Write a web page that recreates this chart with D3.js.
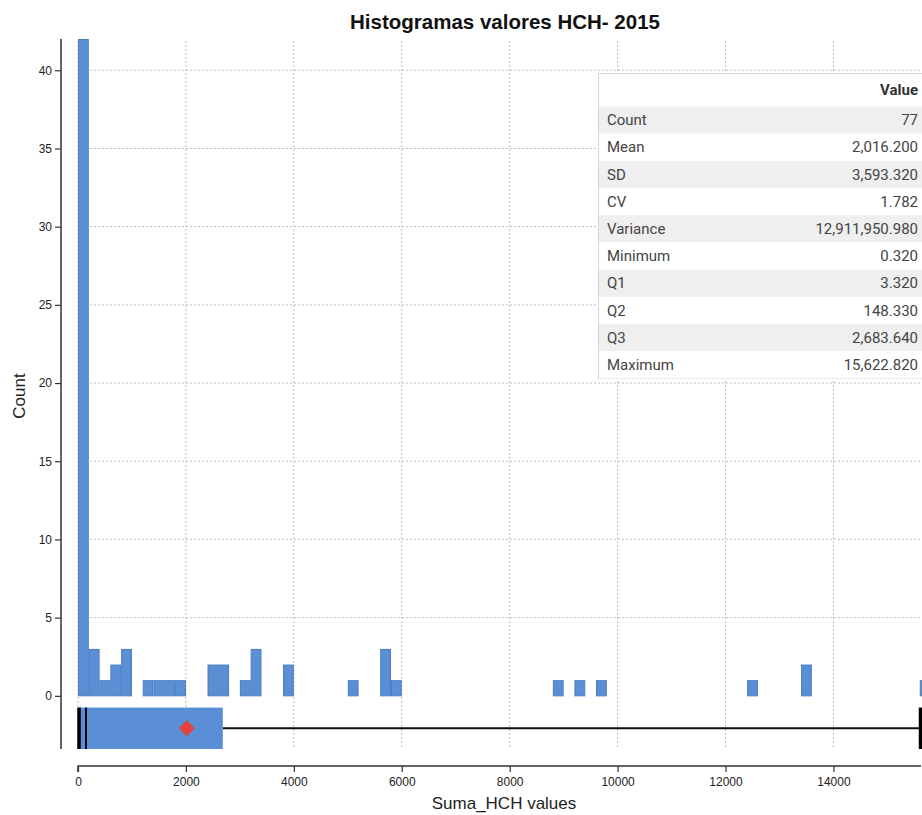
<!DOCTYPE html>
<html>
<head>
<meta charset="utf-8">
<script src="https://cdn.jsdelivr.net/npm/d3@7"></script>
<style>
  html, body { margin: 0; padding: 0; background: #fff; }
  svg { display: block; }
</style>
</head>
<body>
<svg id="chart" width="922" height="815"></svg>
<script>
// Histogram bins of Suma_HCH (bin width 200), only non-empty bins listed
const binWidth = 200;
const binStarts = [0, 200, 400, 600, 800, 1200, 1400, 1600, 1800, 2400, 2600, 3000, 3200, 3800,
                   5000, 5600, 5800, 8800, 9200, 9600, 12400, 13400, 15600];
const binCounts = [42, 3, 1, 2, 3, 1, 1, 1, 1, 2, 2, 1, 3, 2,
                   1, 3, 1, 1, 1, 1, 1, 2, 1];

// Summary statistics
const statLabels = ["Count", "Mean", "SD", "CV", "Variance", "Minimum", "Q1", "Q2", "Q3", "Maximum"];
const statValues = [77, 2016.2, 3593.32, 1.782, 12911950.98, 0.32, 3.32, 148.33, 2683.64, 15622.82];

const xTicks = [0, 2000, 4000, 6000, 8000, 10000, 12000, 14000];
const yTicks = [0, 5, 10, 15, 20, 25, 30, 35, 40];

const stat = name => statValues[statLabels.indexOf(name)];

const svg = d3.select("#chart");
const blue = "#5b8fd5";
const blueEdge = "#4a7dc2";
const gridColor = "#bdbdbd";

const x = d3.scaleLinear().domain([0, stat("Maximum")]).range([78, 921]);
const y = d3.scaleLinear().domain([-3.4, 42]).range([749, 39]);

// clip for plot area
svg.append("defs").append("clipPath").attr("id", "plotClip")
  .append("rect").attr("x", x(0)).attr("y", 0).attr("width", 922 - x(0)).attr("height", 815);

// grid
const grid = svg.append("g");
grid.selectAll("line.vg").data(xTicks).join("line")
  .attr("x1", d => x(d)).attr("x2", d => x(d))
  .attr("y1", y(42) + 2).attr("y2", y(-3.4))
  .attr("stroke", gridColor).attr("stroke-width", 1).attr("stroke-dasharray", "2,2");
grid.selectAll("line.hg").data(yTicks.filter(d => d > 0)).join("line")
  .attr("x1", x(0)).attr("x2", 922)
  .attr("y1", d => y(d)).attr("y2", d => y(d))
  .attr("stroke", gridColor).attr("stroke-width", 1).attr("stroke-dasharray", "2,2");

// histogram bars
svg.append("g").attr("clip-path", "url(#plotClip)")
  .selectAll("rect").data(binStarts).join("rect")
  .attr("x", d => x(d) + 0.5)
  .attr("width", d => x(d + binWidth) - x(d) - 1)
  .attr("y", (d, i) => y(binCounts[i]) + 0.5)
  .attr("height", (d, i) => y(0) - y(binCounts[i]) - 0.5)
  .attr("fill", blue).attr("stroke", blueEdge).attr("stroke-width", 1);

// boxplot under the histogram
const bTop = y(-0.75), bBot = y(-3.4), bMid = (bTop + bBot) / 2;
const box = svg.append("g");
box.append("line")
  .attr("x1", x(stat("Q3"))).attr("x2", x(stat("Maximum")))
  .attr("y1", bMid).attr("y2", bMid)
  .attr("stroke", "#111").attr("stroke-width", 2);
box.append("rect")
  .attr("x", x(stat("Q1"))).attr("width", x(stat("Q3")) - x(stat("Q1")))
  .attr("y", bTop).attr("height", bBot - bTop)
  .attr("fill", blue);
box.append("line")
  .attr("x1", x(stat("Minimum")) + 1).attr("x2", x(stat("Minimum")) + 1)
  .attr("y1", bTop).attr("y2", bBot)
  .attr("stroke", "#000").attr("stroke-width", 3.5);
box.append("line")
  .attr("x1", x(stat("Maximum")) - 0.5).attr("x2", x(stat("Maximum")) - 0.5)
  .attr("y1", bTop).attr("y2", bBot)
  .attr("stroke", "#000").attr("stroke-width", 3.5);
box.append("line")
  .attr("x1", x(stat("Q2"))).attr("x2", x(stat("Q2")))
  .attr("y1", bTop).attr("y2", bBot)
  .attr("stroke", "#000").attr("stroke-width", 2);
box.append("path")
  .attr("d", d3.symbol(d3.symbolDiamond2, 160)())
  .attr("transform", `translate(${x(stat("Mean"))},${bMid})`)
  .attr("fill", "#e8403a");

// axes
const axisFont = "'Liberation Sans', Arial, sans-serif";
const xAxis = svg.append("g").attr("transform", "translate(0,766)")
  .call(d3.axisBottom(x).tickValues(xTicks).tickSize(6).tickSizeOuter(6).tickFormat(d3.format("d")));
const yAxis = svg.append("g").attr("transform", "translate(61,0)")
  .call(d3.axisLeft(y).tickValues(yTicks).tickSize(6).tickSizeOuter(0).tickFormat(d3.format("d")));
[xAxis, yAxis].forEach(a => {
  a.select(".domain").attr("stroke", "#333").attr("stroke-width", 1.5);
  a.selectAll(".tick line").attr("stroke", "#333").attr("stroke-width", 1.2);
  a.selectAll(".tick text").attr("fill", "#222").attr("font-size", 12).attr("font-family", axisFont);
});
xAxis.selectAll(".tick text").attr("dy", "0.95em");
yAxis.select(".domain").attr("d", `M0,${y(42)}V${y(-3.4)}`);
// right end of the x axis line
xAxis.select(".domain").attr("d", `M${x(0)},6V0H${x(stat("Maximum"))}`);

// titles
svg.append("text").attr("x", 505).attr("y", 29).attr("text-anchor", "middle")
  .attr("font-family", axisFont).attr("font-weight", "bold").attr("font-size", 20.5)
  .attr("fill", "#111").text("Histogramas valores HCH- 2015");
svg.append("text").attr("x", 504).attr("y", 809).attr("text-anchor", "middle")
  .attr("font-family", axisFont).attr("font-size", 17).attr("fill", "#222").text("Suma_HCH values");
svg.append("text").attr("transform", "translate(25,396) rotate(-90)").attr("text-anchor", "middle")
  .attr("font-family", axisFont).attr("font-size", 17).attr("fill", "#222").text("Count");

// summary statistics table
const tX = 598.5, tY = 73.5, headH = 33, rowH = 27.2, tW = 340;
const fmt = d3.format(",.3f");
const tbl = svg.append("g");
tbl.append("rect").attr("x", tX).attr("y", tY).attr("width", tW)
  .attr("height", headH + rowH * statLabels.length)
  .attr("fill", "#fff").attr("stroke", "#d4d4d4").attr("stroke-width", 1);
tbl.selectAll("rect.row").data(statLabels).join("rect")
  .attr("x", tX + 0.5).attr("width", tW)
  .attr("y", (d, i) => tY + headH + i * rowH).attr("height", rowH)
  .attr("fill", (d, i) => i % 2 === 0 ? "#efefef" : "#fff");
const tableFont = "Roboto, 'Noto Sans', sans-serif";
tbl.append("text").attr("x", 918).attr("y", tY + headH / 2 + 5).attr("text-anchor", "end")
  .attr("font-family", tableFont).attr("font-weight", "bold").attr("font-size", 15)
  .attr("fill", "#333").text("Value");
tbl.selectAll("text.lab").data(statLabels).join("text")
  .attr("x", 607).attr("y", (d, i) => tY + headH + i * rowH + rowH / 2 + 5)
  .attr("font-family", tableFont).attr("font-size", 15).attr("fill", "#444")
  .text(d => d);
tbl.selectAll("text.val").data(statValues).join("text")
  .attr("x", 918).attr("y", (d, i) => tY + headH + i * rowH + rowH / 2 + 5)
  .attr("text-anchor", "end")
  .attr("font-family", tableFont).attr("font-size", 15).attr("fill", "#444")
  .text((d, i) => statLabels[i] === "Count" ? d3.format("d")(d) : fmt(d));
</script>
</body>
</html>
